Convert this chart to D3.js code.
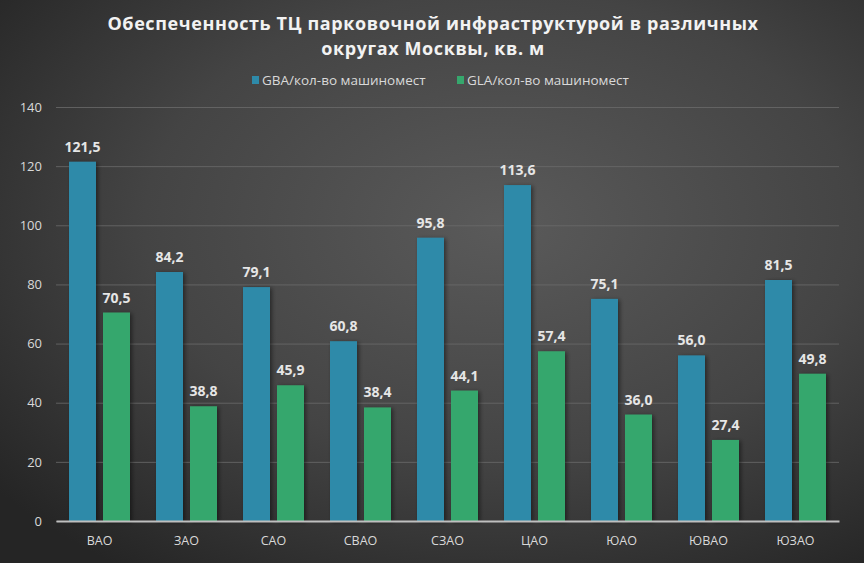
<!DOCTYPE html>
<html>
<head>
<meta charset="utf-8">
<script src="https://cdn.jsdelivr.net/npm/d3@7"></script>
<style>
  html, body { margin: 0; padding: 0; background: #333; }
  svg { display: block; }
</style>
</head>
<body>
<div id="chart"></div>
<script>
// data
var districts = ["ВАО", "ЗАО", "САО", "СВАО", "СЗАО", "ЦАО", "ЮАО", "ЮВАО", "ЮЗАО"];
var gbaValues = [121.5, 84.2, 79.1, 60.8, 95.8, 113.6, 75.1, 56.0, 81.5];
var glaValues = [70.5, 38.8, 45.9, 38.4, 44.1, 57.4, 36.0, 27.4, 49.8];
var seriesNames = ["GBA/кол-во машиномест", "GLA/кол-во машиномест"];
var yTicks = [0, 20, 40, 60, 80, 100, 120, 140];
var titleLines = ["Обеспеченность ТЦ парковочной инфраструктурой в различных", "округах Москвы, кв. м"];

var W = 864, H = 563;
var margin = {top: 107, right: 25, bottom: 42, left: 56},
    width = W - margin.left - margin.right,
    height = H - margin.top - margin.bottom;

var colors = ["#2e8aa9", "#36a76d"];
var font = "'Open Sans', 'DejaVu Sans', sans-serif";

var svg = d3.select("#chart").append("svg")
    .attr("width", W)
    .attr("height", H);

var defs = svg.append("defs");
var grad = defs.append("radialGradient")
    .attr("id", "bg")
    .attr("cx", "58%").attr("cy", "40%").attr("r", "75%");
grad.append("stop").attr("offset", "0%").attr("stop-color", "#5a5a5a");
grad.append("stop").attr("offset", "55%").attr("stop-color", "#444444");
grad.append("stop").attr("offset", "100%").attr("stop-color", "#252525");

var shadow = defs.append("filter").attr("id", "shadow")
    .attr("x", "-30%").attr("y", "-10%").attr("width", "160%").attr("height", "120%");
shadow.append("feDropShadow")
    .attr("dx", 2).attr("dy", 1).attr("stdDeviation", 2)
    .attr("flood-color", "#000").attr("flood-opacity", 0.45);

svg.append("rect").attr("width", W).attr("height", H).attr("fill", "url(#bg)");

// title
svg.append("g").selectAll("text")
    .data(titleLines)
    .enter().append("text")
    .attr("x", W / 2 + 1)
    .attr("y", function(d, i) { return 30 + i * 25; })
    .attr("text-anchor", "middle")
    .attr("fill", "#f2f2f2")
    .style("font-family", font)
    .style("font-weight", 700)
    .style("font-size", "18px")
    .style("letter-spacing", "0.6px")
    .text(function(d) { return d; });

// legend
var legendX = [252, 457];
var legend = svg.append("g").selectAll("g")
    .data(seriesNames)
    .enter().append("g")
    .attr("transform", function(d, i) { return "translate(" + legendX[i] + ",80)"; });
legend.append("rect")
    .attr("x", 0).attr("y", -4)
    .attr("width", 7).attr("height", 8)
    .attr("fill", function(d, i) { return colors[i]; });
legend.append("text")
    .attr("x", 10).attr("y", 5)
    .attr("fill", "#d9d9d9")
    .style("font-family", font)
    .style("font-size", "13.5px")
    .text(function(d) { return d; });

var g = svg.append("g")
    .attr("transform", "translate(" + margin.left + "," + margin.top + ")");

var x = d3.scaleBand()
    .domain(districts)
    .range([0, width]);

var xSub = d3.scaleBand()
    .domain([0, 1])
    .range([0, x.bandwidth()])
    .paddingInner(0.206)
    .paddingOuter(0.382);

var y = d3.scaleLinear()
    .domain([0, 140])
    .range([height, 0]);

// grid lines
g.append("g")
    .call(d3.axisLeft(y).tickValues(yTicks).tickSize(-width).tickFormat(""))
    .call(function(a) {
        a.select(".domain").remove();
        a.selectAll("line").attr("stroke", "#6a6a6a").attr("stroke-width", 1).attr("opacity", 0.8);
    });

// y tick labels
g.append("g")
    .call(d3.axisLeft(y).tickValues(yTicks).tickSize(0).tickPadding(14))
    .call(function(a) {
        a.select(".domain").remove();
        a.selectAll("text")
            .attr("fill", "#d9d9d9")
            .style("font-family", font)
            .style("font-size", "13px");
    });

var data = districts.map(function(d, i) {
    return {district: d, values: [gbaValues[i], glaValues[i]]};
});

var fmt = function(v) { return d3.format(".1f")(v).replace(".", ","); };

var groups = g.append("g").selectAll("g")
    .data(data)
    .enter().append("g")
    .attr("transform", function(d) { return "translate(" + x(d.district) + ",0)"; });

groups.selectAll("rect")
    .data(function(d) { return d.values.map(function(v, k) { return {k: k, v: v}; }); })
    .enter().append("rect")
    .attr("x", function(d) { return xSub(d.k); })
    .attr("y", function(d) { return y(d.v); })
    .attr("width", xSub.bandwidth())
    .attr("height", function(d) { return height - y(d.v); })
    .attr("fill", function(d) { return colors[d.k]; })
    .attr("filter", "url(#shadow)");

groups.selectAll("text")
    .data(function(d) { return d.values.map(function(v, k) { return {k: k, v: v}; }); })
    .enter().append("text")
    .attr("x", function(d) { return xSub(d.k) + xSub.bandwidth() / 2; })
    .attr("y", function(d) { return y(d.v) - 10; })
    .attr("text-anchor", "middle")
    .attr("fill", "#e6e6e6")
    .style("font-family", font)
    .style("font-weight", 700)
    .style("font-size", "14px")
    .text(function(d) { return fmt(d.v); });

// x axis
g.append("g")
    .attr("transform", "translate(0," + height + ")")
    .call(d3.axisBottom(x).tickSize(0).tickPadding(15))
    .call(function(a) {
        a.select(".domain").attr("stroke", "#bfbfbf").attr("stroke-width", 2);
        a.selectAll("text")
            .attr("fill", "#d9d9d9")
            .style("font-family", font)
            .style("font-size", "12.5px");
    });
</script>
</body>
</html>
